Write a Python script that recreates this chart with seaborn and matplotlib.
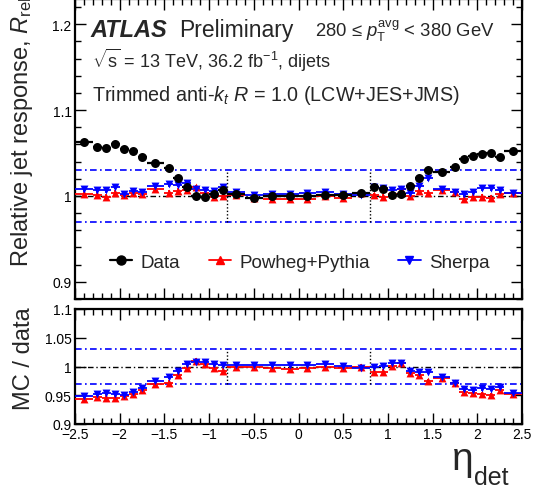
import numpy as np
import pandas as pd
import matplotlib
matplotlib.use("Agg")
import matplotlib.pyplot as plt
from matplotlib.lines import Line2D
from matplotlib.ticker import MultipleLocator, FuncFormatter
import seaborn as sns

# ---------------- data ----------------
eta_center = [-2.4, -2.25, -2.15, -2.05, -1.95, -1.85, -1.75, -1.6, -1.45, -1.35,
              -1.25, -1.15, -1.05, -0.95, -0.85, -0.7, -0.5, -0.3, -0.1,
              0.1, 0.3, 0.5, 0.7, 0.85, 0.95, 1.05, 1.15, 1.25, 1.35,
              1.45, 1.6, 1.75, 1.85, 1.95, 2.05, 2.15, 2.25, 2.4]
eta_halfwidth = [0.1, 0.05, 0.05, 0.05, 0.05, 0.05, 0.05, 0.1, 0.05, 0.05,
                 0.05, 0.05, 0.05, 0.05, 0.05, 0.1, 0.1, 0.1, 0.1,
                 0.1, 0.1, 0.1, 0.1, 0.05, 0.05, 0.05, 0.05, 0.05, 0.05,
                 0.05, 0.1, 0.05, 0.05, 0.05, 0.05, 0.05, 0.05, 0.1]

resp_data = [1.063, 1.057, 1.056, 1.061, 1.055, 1.052, 1.045, 1.039, 1.033, 1.021,
             1.010, 1.000, 0.999, 1.002, 1.007, 1.002, 0.998, 1.000, 1.000,
             1.000, 1.001, 1.001, 1.004, 1.010, 1.008, 1.001, 1.002, 1.012, 1.021,
             1.030, 1.028, 1.034, 1.043, 1.047, 1.049, 1.050, 1.045, 1.052]
resp_powheg = [1.002, 1.001, 0.999, 1.004, 1.001, 1.003, 1.002, 1.008, 1.004, 1.006,
               1.007, 1.010, 1.004, 0.999, 1.000, 1.001, 0.998, 0.997, 0.996,
               0.997, 1.000, 0.998, 1.003, 1.001, 0.999, 1.002, 1.008, 1.000, 1.006,
               1.004, 1.007, 1.005, 0.997, 0.999, 0.999, 0.998, 1.002, 1.003]
resp_sherpa = [1.008, 1.007, 1.007, 1.011, 1.002, 1.006, 1.005, 1.012, 1.014, 1.013,
               1.015, 1.008, 1.007, 1.006, 1.010, 1.005, 1.001, 1.002, 1.002,
               1.003, 1.005, 1.002, 1.001, 1.010, 1.009, 1.007, 1.008, 1.004, 1.012,
               1.021, 1.008, 1.005, 1.002, 1.005, 1.009, 1.009, 1.007, 1.004]

ratio_powheg = [0.943, 0.947, 0.946, 0.946, 0.949, 0.953, 0.959, 0.970, 0.972, 0.985,
                0.997, 1.010, 1.005, 0.997, 0.993, 0.999, 1.000, 0.997, 0.995,
                0.997, 0.999, 0.997, 1.000, 0.991, 0.991, 1.001, 1.006, 0.988, 0.985,
                0.975, 0.980, 0.972, 0.956, 0.954, 0.952, 0.950, 0.959, 0.953]
ratio_sherpa = [0.9485, 0.953, 0.954, 0.953, 0.950, 0.956, 0.962, 0.974, 0.982, 0.992,
                1.005, 1.008, 1.008, 1.004, 1.003, 1.003, 1.003, 1.002, 1.002,
                1.003, 1.004, 1.001, 0.997, 1.000, 1.001, 1.006, 1.006, 0.992, 0.991,
                0.991, 0.981, 0.972, 0.961, 0.960, 0.962, 0.961, 0.964, 0.954]

err_data = 0.002
err_mc = 0.003
err_ratio = 0.004

x_ticks = [-2.5, -2, -1.5, -1, -0.5, 0, 0.5, 1, 1.5, 2, 2.5]
top_yticks = [0.9, 1.0, 1.1, 1.2]
bot_yticks = [0.9, 0.95, 1.0, 1.05, 1.1]

df = pd.DataFrame({"eta": eta_center, "xerr": eta_halfwidth,
                   "data": resp_data, "powheg": resp_powheg, "sherpa": resp_sherpa,
                   "r_powheg": ratio_powheg, "r_sherpa": ratio_sherpa})

# ---------------- style ----------------
sns.set_theme(style="ticks")
plt.rcParams["font.family"] = ["Liberation Sans", "DejaVu Sans"]
plt.rcParams["mathtext.fontset"] = "custom"
plt.rcParams["mathtext.rm"] = "Liberation Sans"
plt.rcParams["mathtext.it"] = "Liberation Sans:italic"
plt.rcParams["mathtext.bf"] = "Liberation Sans:bold"

fig = plt.figure(figsize=(5.33, 4.89), dpi=100)
L, R = 75 / 533, 522 / 533
ax1 = fig.add_axes([L, 1 - 300 / 489, R - L, 300 / 489])
ax2 = fig.add_axes([L, 1 - 425 / 489, R - L, (425 - 310) / 489])

RED = "#ff0000"
BLUE = "#0000ff"


def fmt(v, pos):
    s = ("%.2f" % v).rstrip("0").rstrip(".")
    return s.replace("-", "\u2212")


def guides(ax):
    ax.axhline(1.03, color=BLUE, lw=1.2, ls=(0, (4, 2, 1, 2)), zorder=1)
    ax.axhline(0.97, color=BLUE, lw=1.2, ls=(0, (4, 2, 1, 2)), zorder=1)
    ax.axhline(1.0, color="black", lw=1.0, ls=(0, (4, 2, 1, 2)), zorder=1)
    for xv in (-0.8, 0.8):
        ax.plot([xv, xv], [0.97, 1.03], color="black", lw=1.0, ls=(0, (1, 1.5)), zorder=1)


def style_axes(ax, ymaj, ymin=None):
    ax.set_xlim(-2.5, 2.5)
    ax.xaxis.set_major_locator(MultipleLocator(0.5))
    ax.xaxis.set_minor_locator(MultipleLocator(0.1))
    ax.yaxis.set_major_locator(MultipleLocator(ymaj))
    if ymin:
        ax.yaxis.set_minor_locator(MultipleLocator(ymin))
    ax.tick_params(which="both", direction="in", top=True, right=True,
                   width=1.0, colors="black", labelsize=10, pad=2.5)
    ax.tick_params(which="major", length=8)
    ax.tick_params(which="minor", length=4)
    for sp in ax.spines.values():
        sp.set_linewidth(1.6)
        sp.set_color("black")
    ax.yaxis.set_major_formatter(FuncFormatter(fmt))
    ax.xaxis.set_major_formatter(FuncFormatter(fmt))


# ---------------- top panel ----------------
guides(ax1)
ax1.errorbar(df["eta"], df["powheg"], xerr=df["xerr"], yerr=err_mc, fmt="none",
             ecolor=RED, elinewidth=1.3, zorder=3)
ax1.errorbar(df["eta"], df["sherpa"], xerr=df["xerr"], yerr=err_mc, fmt="none",
             ecolor=BLUE, elinewidth=1.3, zorder=4)
ax1.errorbar(df["eta"], df["data"], xerr=df["xerr"], yerr=err_data, fmt="none",
             ecolor="black", elinewidth=1.6, zorder=5)
sns.scatterplot(data=df, x="eta", y="powheg", marker="^", s=32, color=RED,
                edgecolor=RED, linewidth=0, ax=ax1, zorder=6, legend=False)
sns.scatterplot(data=df, x="eta", y="sherpa", marker="v", s=32, color=BLUE,
                edgecolor=BLUE, linewidth=0, ax=ax1, zorder=7, legend=False)
sns.scatterplot(data=df, x="eta", y="data", marker="o", s=42, color="black",
                edgecolor="black", linewidth=0, ax=ax1, zorder=8, legend=False)
style_axes(ax1, 0.1, 0.02)
ax1.set_ylim(0.88, 1.2295)
ax1.set_yticks(top_yticks)
ax1.tick_params(axis="x", labelbottom=False)
ax1.set_xlabel("")
ax1.set_ylabel(r"Relative jet response, $R_{\mathrm{rel}}$", fontsize=17, loc="top")
ax1.yaxis.set_label_coords(-0.089, 1.012)

ax1.text(0.034, 0.877, "ATLAS", transform=ax1.transAxes, fontsize=17,
         fontweight="bold", fontstyle="italic", va="baseline")
ax1.text(0.232, 0.877, "Preliminary", transform=ax1.transAxes, fontsize=16.5,
         va="baseline")
ax1.text(0.537, 0.877, r"280 ≤ $p_{\mathrm{T}}^{\mathrm{avg}}$ < 380 GeV",
         transform=ax1.transAxes, fontsize=13.3, va="baseline")
ax1.text(0.038, 0.773, r"$\sqrt{\mathrm{s}}$ = 13 TeV, 36.2 fb$^{-1}$, dijets",
         transform=ax1.transAxes, fontsize=13, va="baseline")
ax1.text(0.038, 0.663, r"Trimmed anti-$k_{t}$ $R$ = 1.0 (LCW+JES+JMS)",
         transform=ax1.transAxes, fontsize=14.2, va="baseline")

handles = [
    Line2D([], [], color="black", marker="o", markersize=6.5, lw=1.6),
    Line2D([], [], color=RED, marker="^", markersize=6, lw=1.3),
    Line2D([], [], color=BLUE, marker="v", markersize=6, lw=1.3),
]
ax1.legend(handles, ["Data", "Powheg+Pythia", "Sherpa"], ncol=3, frameon=False,
           loc="center", bbox_to_anchor=(0.503, 0.123), fontsize=13.5,
           handlelength=1.2, handletextpad=0.45, columnspacing=1.5,
           borderpad=0, borderaxespad=0)

# ---------------- ratio panel ----------------
guides(ax2)
ax2.errorbar(df["eta"], df["r_powheg"], xerr=df["xerr"], yerr=err_ratio, fmt="none",
             ecolor=RED, elinewidth=1.3, zorder=3)
ax2.errorbar(df["eta"], df["r_sherpa"], xerr=df["xerr"], yerr=err_ratio, fmt="none",
             ecolor=BLUE, elinewidth=1.3, zorder=4)
sns.scatterplot(data=df, x="eta", y="r_powheg", marker="^", s=32, color=RED,
                edgecolor=RED, linewidth=0, ax=ax2, zorder=6, legend=False)
sns.scatterplot(data=df, x="eta", y="r_sherpa", marker="v", s=32, color=BLUE,
                edgecolor=BLUE, linewidth=0, ax=ax2, zorder=7, legend=False)
style_axes(ax2, 0.05)
ax2.set_ylim(0.9, 1.1)
ax2.set_yticks(bot_yticks)
ax2.set_xticks(x_ticks)
ax2.set_xlabel("")
ax2.set_ylabel("MC / data", fontsize=17)
ax2.yaxis.set_label_coords(-0.089, 0.574)

fig.text(452 / 533, 1 - 470 / 489, "η", fontsize=28, ha="left", va="baseline")
fig.text(474 / 533, 1 - 485 / 489, "det", fontsize=18, ha="left", va="baseline")

fig.savefig("out.png", dpi=100)
